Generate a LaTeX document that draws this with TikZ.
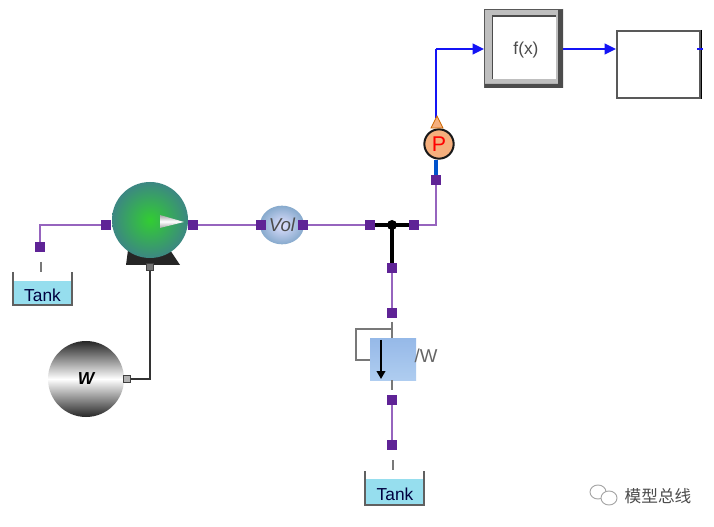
\documentclass[tikz,border=0pt]{standalone}
\usepackage{fontspec}
\setmainfont{Liberation Sans}
\newfontfamily\cjkwm{Noto Sans CJK SC}
\usetikzlibrary{arrows.meta,shapes.geometric}
\definecolor{pipe}{RGB}{150,100,190}
\definecolor{portc}{RGB}{95,35,150}
\definecolor{sig}{RGB}{20,20,245}
\definecolor{water}{RGB}{150,222,238}
\definecolor{stub}{RGB}{120,120,120}
\tikzset{
  x=0.75pt,y=-0.75pt,
  port/.style={draw=none,fill=portc,minimum size=7.5pt,inner sep=0,outer sep=0,shape=rectangle},
  pipeline/.style={draw=pipe,line width=1.5pt},
  thick black/.style={draw=black,line width=2.4pt},
  stubline/.style={draw=stub,line width=1.2pt},
  sigline/.style={draw=sig,line width=1.5pt},
  sigarrow/.style={sigline,-{Triangle[length=8.5pt,width=8pt]}},
  tanktext/.style={font=\fontsize{13}{15}\selectfont,text=black!75!blue,inner sep=0},
  tankwall/.style={draw=stub!80!black,line width=1.2pt},
}
\begin{document}
\begin{tikzpicture}
\useasboundingbox (0,0) rectangle (714,527);
\fill[white] (0,0) rectangle (714,527);
% coordinates
\coordinate (lc) at (40,225);
\coordinate (wc) at (150,379);
\coordinate (rc) at (436,225);
\coordinate (sc) at (436,49);
\coordinate (fa) at (392,329);
\coordinate (fb) at (356,329);
\coordinate (fc) at (356,360);
\coordinate (fd) at (370,360);
\coordinate (j) at (392,225);
% ports
\node[port] (p1) at (40,247) {};
\node[port] (p2) at (106,225) {};
\node[port] (p3) at (193,225) {};
\node[port] (p4) at (261,225) {};
\node[port] (p5) at (303,225) {};
\node[port] (p6) at (370,225) {};
\node[port] (p7) at (414,225) {};
\node[port] (p8) at (436,180) {};
\node[port] (p9) at (392,268) {};
\node[port] (p10) at (392,313) {};
\node[port] (p11) at (392,400) {};
\node[port] (p12) at (392,445) {};
% pipes
\draw[pipeline] (p1) -- (lc) -- (p2);
\draw[pipeline] (p3) -- (p4);
\draw[pipeline] (p5) -- (p6);
\draw[pipeline] (p7) -- (rc) -- (p8);
\draw[pipeline] (p9) -- (p10);
\draw[pipeline] (p11) -- (p12);
\draw[thick black] (p6) -- (j) -- (p7);
\draw[thick black] (j) -- (p9);
\fill[black] (j) circle[radius=5];
% tank left
\coordinate (t1a) at (41,262); \coordinate (t1b) at (41,272);
\draw[stubline] (t1a) -- (t1b);
\fill[water] (13,281) rectangle (72,305);
\draw[tankwall] (13,272) -- (13,305) -- (72,305) -- (72,272);
\node[tanktext] (tank1) at (42.5,295) {Tank};
% tank bottom
\coordinate (t2a) at (393,460); \coordinate (t2b) at (393,470);
\draw[stubline] (t2a) -- (t2b);
\fill[water] (365,479) rectangle (424,505);
\draw[tankwall] (365,471) -- (365,505) -- (424,505) -- (424,471);
\node[tanktext] (tank2) at (395,494) {Tank};
% pump
\fill[black!85] (128,250) -- (170,250) -- (180,265) -- (126,265) -- cycle;
\node[circle,minimum size=57pt,inner sep=0,inner color={rgb,255:red,50;green,205;blue,50},outer color={rgb,255:red,60;green,135;blue,130},draw=none] (pump) at (150,220) {};
\shade[top color=gray!70,bottom color=gray!70,middle color=white] (160,215) -- (184,222) -- (160,228) -- cycle;
% speed source
\node[circle,minimum size=57pt,inner sep=0,top color=black!85,bottom color=black!85,middle color=white,draw=none,font=\bfseries\itshape\fontsize{13}{15}\selectfont] (w) at (86,379) {W};
\node[draw=black!75,fill=white!70!black,minimum size=5pt,inner sep=0,line width=0.8pt] (wp) at (127,379) {};
\node[draw=black!75,fill=black!55,minimum size=5pt,inner sep=0,line width=0.8pt] (pp) at (150,267) {};
\draw[black!80,line width=1.3pt] (wp) -- (wc) -- (pp);
% volume
\node[ellipse,minimum width=33pt,minimum height=29pt,inner sep=0,inner color=white!88!blue,outer color={rgb,255:red,135;green,170;blue,205},draw=none,font=\itshape\fontsize{14}{16}\selectfont,text=black!70] (vol) at (282,225) {Vol};
\node[port] at (p4) {}; \node[port] at (p5) {};
% valve
\coordinate (vt) at (392,322);
\draw[stubline] (vt) -- (392,339);
\draw[stubline] (fa) -- (fb) -- (fc) -- (fd);
\node[minimum width=34.5pt,minimum height=31pt,inner sep=0,top color={rgb,255:red,150;green,185;blue,232},bottom color={rgb,255:red,175;green,205;blue,240},draw=none] (valve) at (393,359.5) {};
\coordinate (va) at (381,340); \coordinate (vb) at (381,379);
\draw[black,line width=1.4pt,-{Triangle[length=6pt,width=6.5pt]}] (va) -- (vb);
\node[font=\fontsize{14}{16}\selectfont,text=black!60,inner sep=0] (vlabel) at (426,356) {/W};
\coordinate (vc) at (392,380); \coordinate (vd) at (392,390);
\draw[stubline] (vc) -- (vd);
% pressure sensor
\coordinate (s0) at (436,118);
\draw[sigline,line width=1.7pt] (s0) -- (sc);
\node[circle,draw=black!90,line width=1.5pt,fill={rgb,255:red,245;green,175;blue,125},minimum size=22pt,inner sep=0,text=red,font=\fontsize{16}{18}\selectfont] (psens) at (439,144) {P};
\draw[draw=blue!60!cyan!80!black,line width=2.4pt] (p8) -- (psens.south -| p8);
\filldraw[draw=orange!80!black,fill={rgb,255:red,245;green,175;blue,125},line width=0.6pt] (431,128) -- (437,116) -- (443,128) -- cycle;
% f(x)
\node[minimum size=59pt,inner sep=0,draw=none,fill=black!25] (fx) at (523.5,48.5) {};
\fill[black!70] (563,9) -- (563,88) -- (484,88) -- (485,84) -- (558,84) -- (558,10) -- cycle;
\draw[black!65,line width=0.8pt] (484.5,88) -- (484.5,9.5) -- (563,9.5);
\fill[white] (493,16) rectangle (556,79);
\draw[black!70,line width=1.4pt] (492.5,79) -- (492.5,16) -- (556,16);
\node[font=\fontsize{13}{15}\selectfont,text=black!70,inner sep=0] at (526,50) {f(x)};
% output block
\node[minimum width=62.5pt,minimum height=50pt,inner sep=0,draw=black!65,line width=1.6pt,fill=white,anchor=north west] (out) at (616,30) {};
\draw[black,line width=0.9pt] (out.north east) -- (out.south east);
\coordinate (ot) at (700,49);
\draw[sig,line width=1.1pt] (697,49) -- (ot) -- (703,49);
\draw[sigarrow] (sc) -- (fx.west |- sc);
\draw[sigline,line width=2.2pt] (fx.east |- 0,49) -- (573,49);
\draw[sigarrow] (fx.east |- 0,49) -- (out.west |- 0,49);
% watermark
\draw[black!35,line width=0.7pt,fill=white] (598,492) ellipse[x radius=8,y radius=7];
\draw[black!35,line width=0.7pt,fill=white] (609,498) ellipse[x radius=8,y radius=7];
\node[font=\cjkwm\fontsize{12.5}{14}\selectfont,text=black!70,inner sep=0] (wm) at (658,496) {模型总线};
\end{tikzpicture}
\end{document}
